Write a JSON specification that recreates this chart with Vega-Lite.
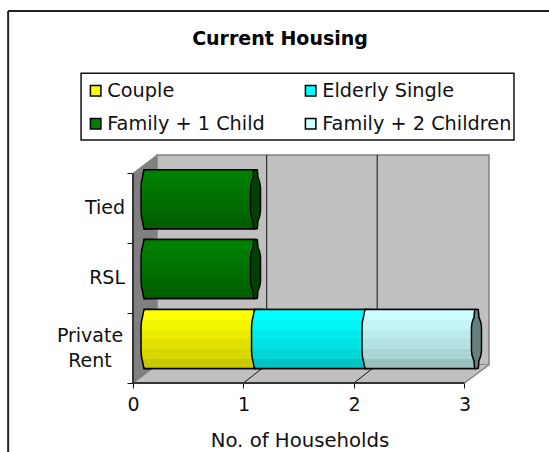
{
"$schema":"https://vega.github.io/schema/vega-lite/v6.json",
"width":356,"height":228,
"autosize":"none",
"padding":{"left":133,"top":155,"right":60,"bottom":69},
"background":"white",
"title":{"text":"Current Housing","anchor":"middle","frame":"group","dx":-31,"offset":-39,"font":"DejaVu Sans","fontSize":19,"fontWeight":"bold","color":"black"},
"config":{"view":{"stroke":null},"font":"DejaVu Sans"},
"datasets":{
"bars":[
{"category":"Private Rent","series":"Couple","value":1,"x":0,"x2":1,"y":0.5},
{"category":"Private Rent","series":"Elderly Single","value":1,"x":1,"x2":2,"y":0.5},
{"category":"Private Rent","series":"Family + 2 Children","value":1,"x":2,"x2":3,"y":0.5},
{"category":"RSL","series":"Family + 1 Child","value":1,"x":0,"x2":1,"y":1.5},
{"category":"Tied","series":"Family + 1 Child","value":1,"x":0,"x2":1,"y":2.5}
],
"labels":[
{"category":"Private Rent","x":0,"y":0.5},
{"category":"RSL","x":0,"y":1.5},
{"category":"Tied","x":0,"y":2.5}
]
},
"encoding":{
"x":{"field":"x","type":"quantitative","scale":{"domain":[0,3.222],"nice":false,"zero":false,"padding":0},
"axis":{"values":[0,1,2,3],"format":"d","title":"No. of Households","grid":false,"domain":false,"tickColor":"#111","tickSize":5,"tickWidth":1,"labelFont":"DejaVu Sans","labelFontSize":19,"labelColor":"#111","labelPadding":7,"labelFlush":false,"titleFont":"DejaVu Sans","titleFontSize":19.7,"titleFontWeight":"normal","titleColor":"#111","titleX":166.5,"titleY":57,"titleBaseline":"middle"}},
"y":{"field":"y","type":"quantitative","scale":{"domain":[0,3.261],"nice":false,"zero":false,"padding":0},
"axis":{"values":[0,1,2,3],"labels":false,"title":null,"grid":false,"domain":false,"tickColor":"#111","tickSize":6,"tickWidth":1}}
},
"layer":[
{"data":{"values":[{"x":-1.13,"x2":3.77,"y":5.32,"y2":5.32},{"x":-1.13,"x2":-1.13,"y":5.32,"y2":-1}]},
 "mark":{"type":"rule","color":"#222","strokeWidth":2},"encoding":{"x2":{"field":"x2"},"y2":{"field":"y2"}}},
{"data":{"values":[{"x":-0.47,"x2":3.448,"y":3.476,"y2":4.43}]},
 "mark":{"type":"rect","fill":"white","stroke":"#111","strokeWidth":1.5},"encoding":{"x2":{"field":"x2"},"y2":{"field":"y2"}}},
{"data":{"values":[{"x":0,"y":0,"y2":3},{"x":0.217,"y":0.261,"y2":3.261}]},
 "mark":{"type":"area","color":"#808080","stroke":"#808080","strokeWidth":1},"encoding":{"y2":{"field":"y2"}}},
{"data":{"values":[{"x":0.217,"x2":3.222,"y":0.261,"y2":3.261}]},
 "mark":{"type":"rect","fill":"#c0c0c0","stroke":"#808080","strokeWidth":1.5},"encoding":{"x2":{"field":"x2"},"y2":{"field":"y2"}}},
{"data":{"values":[{"x":0,"y":0,"y2":0},{"x":0.217,"y":0.261,"y2":0},{"x":3,"y":0.261,"y2":0},{"x":3.222,"y":0.261,"y2":0.261}]},
 "mark":{"type":"area","color":"#c0c0c0","interpolate":"linear"},"encoding":{"y2":{"field":"y2"}}},
{"data":{"values":[{"x":3,"x2":3.222,"y":0,"y2":0.261},{"x":0,"x2":0.217,"y":0,"y2":0.261}]},
 "mark":{"type":"rule","color":"#808080","strokeWidth":1.5},"encoding":{"x2":{"field":"x2"},"y2":{"field":"y2"}}},
{"data":{"values":[{"x":1.21,"x2":1.21,"y":0.261,"y2":3.261},{"x":2.21,"x2":2.21,"y":0.261,"y2":3.261},{"x":1,"x2":1.21,"y":0,"y2":0.261},{"x":2,"x2":2.21,"y":0,"y2":0.261}]},
 "mark":{"type":"rule","color":"#111","strokeWidth":1},"encoding":{"x2":{"field":"x2"},"y2":{"field":"y2"}}},
{"data":{"values":[{"x":0,"x2":3,"y":0,"y2":0},{"x":0,"x2":0,"y":0,"y2":3}]},
 "mark":{"type":"rule","color":"#333","strokeWidth":2},"encoding":{"x2":{"field":"x2"},"y2":{"field":"y2"}}},
{"data":{"name":"bars"},
 "mark":{"type":"bar","orient":"horizontal","size":59,"xOffset":11,"x2Offset":11,"yOffset":-9,"stroke":"black","strokeWidth":1.5},
 "encoding":{"x2":{"field":"x2"},
 "color":{"field":"series","type":"nominal","scale":{"domain":["Couple","Elderly Single","Family + 1 Child","Family + 2 Children"],"range":["#ffff00","#00ffff","#008000","#ccffff"]},
 "legend":{"title":null,"orient":"none","legendX":-47,"legendY":-74,"direction":"horizontal","columns":2,"gridAlign":"each","columnPadding":36,"rowPadding":13,"symbolType":"square","symbolSize":110,"symbolStrokeColor":"black","symbolStrokeWidth":1.5,"symbolOpacity":1,"labelFont":"DejaVu Sans","labelFontSize":19.3,"labelColor":"#111","labelOffset":2,"padding":0,"labelLimit":300}}}},
{"data":{"name":"bars"},"transform":[{"filter":"datum.series==='Family + 1 Child'"}],
 "mark":{"type":"bar","orient":"horizontal","size":59,"xOffset":11,"x2Offset":11,"yOffset":-9,"stroke":"black","strokeWidth":1.5,"fill":{"gradient":"linear","x1":0,"y1":0,"x2":0,"y2":1,"stops":[{"offset":0,"color":"#008000"},{"offset":0.17,"color":"#008000"},{"offset":0.17,"color":"#007a00"},{"offset":0.34,"color":"#007a00"},{"offset":0.34,"color":"#007300"},{"offset":0.5,"color":"#007300"},{"offset":0.5,"color":"#006d00"},{"offset":0.67,"color":"#006d00"},{"offset":0.67,"color":"#006600"},{"offset":0.84,"color":"#006600"},{"offset":0.84,"color":"#006000"},{"offset":1,"color":"#006000"}]}},
 "encoding":{"x2":{"field":"x2"}}},
{"data":{"name":"bars"},"transform":[{"filter":"datum.series==='Family + 1 Child'"}],
 "mark":{"type":"point","filled":true,"opacity":1,"shape":"M0.3,-1 L0.02,-1 Q-0.03,-0.95 -0.04,-0.8 Q-0.1,-0.6 -0.1,-0.4 L-0.1,0.4 Q-0.1,0.6 -0.04,0.8 Q-0.03,0.95 0.02,1 L0.3,1","size":3481,"xOffset":11,"yOffset":-9,"stroke":"black","strokeWidth":1.5,"fill":{"gradient":"linear","x1":0,"y1":0,"x2":0,"y2":1,"stops":[{"offset":0,"color":"#008000"},{"offset":0.17,"color":"#008000"},{"offset":0.17,"color":"#007a00"},{"offset":0.34,"color":"#007a00"},{"offset":0.34,"color":"#007300"},{"offset":0.5,"color":"#007300"},{"offset":0.5,"color":"#006d00"},{"offset":0.67,"color":"#006d00"},{"offset":0.67,"color":"#006600"},{"offset":0.84,"color":"#006600"},{"offset":0.84,"color":"#006000"},{"offset":1,"color":"#006000"}]}}},
{"data":{"name":"bars"},"transform":[{"filter":"datum.series==='Family + 1 Child'"}],
 "mark":{"type":"point","filled":true,"opacity":1,"shape":"M-0.06,-1 L0.06,-1 Q0.08,-0.85 0.08,-0.75 Q0.17,-0.55 0.17,-0.4 L0.17,0.4 Q0.17,0.55 0.08,0.75 Q0.08,0.85 0.06,1 L-0.06,1 Q-0.08,0.85 -0.08,0.75 Q-0.17,0.55 -0.17,0.4 L-0.17,-0.4 Q-0.17,-0.55 -0.08,-0.75 Q-0.08,-0.85 -0.06,-1 Z","size":3481,"xOffset":12,"yOffset":-9,"stroke":"black","strokeWidth":1.5,"fill":"#004000"},
 "encoding":{"x":{"field":"x2","type":"quantitative"}}},
{"data":{"name":"bars"},"transform":[{"filter":"datum.series==='Couple'"}],
 "mark":{"type":"bar","orient":"horizontal","size":59,"xOffset":11,"x2Offset":11,"yOffset":-9,"stroke":"black","strokeWidth":1.5,"fill":{"gradient":"linear","x1":0,"y1":0,"x2":0,"y2":1,"stops":[{"offset":0,"color":"#ffff00"},{"offset":0.17,"color":"#ffff00"},{"offset":0.17,"color":"#f5f500"},{"offset":0.34,"color":"#f5f500"},{"offset":0.34,"color":"#ebeb00"},{"offset":0.5,"color":"#ebeb00"},{"offset":0.5,"color":"#e1e100"},{"offset":0.67,"color":"#e1e100"},{"offset":0.67,"color":"#d7d700"},{"offset":0.84,"color":"#d7d700"},{"offset":0.84,"color":"#c8c800"},{"offset":1,"color":"#c8c800"}]}},
 "encoding":{"x2":{"field":"x2"}}},
{"data":{"name":"bars"},"transform":[{"filter":"datum.series==='Couple'"}],
 "mark":{"type":"point","filled":true,"opacity":1,"shape":"M0.3,-1 L0.02,-1 Q-0.03,-0.95 -0.04,-0.8 Q-0.1,-0.6 -0.1,-0.4 L-0.1,0.4 Q-0.1,0.6 -0.04,0.8 Q-0.03,0.95 0.02,1 L0.3,1","size":3481,"xOffset":11,"yOffset":-9,"stroke":"black","strokeWidth":1.5,"fill":{"gradient":"linear","x1":0,"y1":0,"x2":0,"y2":1,"stops":[{"offset":0,"color":"#ffff00"},{"offset":0.17,"color":"#ffff00"},{"offset":0.17,"color":"#f5f500"},{"offset":0.34,"color":"#f5f500"},{"offset":0.34,"color":"#ebeb00"},{"offset":0.5,"color":"#ebeb00"},{"offset":0.5,"color":"#e1e100"},{"offset":0.67,"color":"#e1e100"},{"offset":0.67,"color":"#d7d700"},{"offset":0.84,"color":"#d7d700"},{"offset":0.84,"color":"#c8c800"},{"offset":1,"color":"#c8c800"}]}}},
{"data":{"name":"bars"},"transform":[{"filter":"datum.series==='Elderly Single'"}],
 "mark":{"type":"bar","orient":"horizontal","size":59,"xOffset":11,"x2Offset":11,"yOffset":-9,"stroke":"black","strokeWidth":1.5,"fill":{"gradient":"linear","x1":0,"y1":0,"x2":0,"y2":1,"stops":[{"offset":0,"color":"#00ffff"},{"offset":0.17,"color":"#00ffff"},{"offset":0.17,"color":"#00f5f5"},{"offset":0.34,"color":"#00f5f5"},{"offset":0.34,"color":"#00ebeb"},{"offset":0.5,"color":"#00ebeb"},{"offset":0.5,"color":"#00e1e1"},{"offset":0.67,"color":"#00e1e1"},{"offset":0.67,"color":"#00d7d7"},{"offset":0.84,"color":"#00d7d7"},{"offset":0.84,"color":"#00c4c4"},{"offset":1,"color":"#00c4c4"}]}},
 "encoding":{"x2":{"field":"x2"}}},
{"data":{"name":"bars"},"transform":[{"filter":"datum.series==='Elderly Single'"}],
 "mark":{"type":"point","filled":true,"opacity":1,"shape":"M0.3,-1 L0.02,-1 Q-0.03,-0.95 -0.04,-0.8 Q-0.1,-0.6 -0.1,-0.4 L-0.1,0.4 Q-0.1,0.6 -0.04,0.8 Q-0.03,0.95 0.02,1 L0.3,1","size":3481,"xOffset":11,"yOffset":-9,"stroke":"black","strokeWidth":1.5,"fill":{"gradient":"linear","x1":0,"y1":0,"x2":0,"y2":1,"stops":[{"offset":0,"color":"#00ffff"},{"offset":0.17,"color":"#00ffff"},{"offset":0.17,"color":"#00f5f5"},{"offset":0.34,"color":"#00f5f5"},{"offset":0.34,"color":"#00ebeb"},{"offset":0.5,"color":"#00ebeb"},{"offset":0.5,"color":"#00e1e1"},{"offset":0.67,"color":"#00e1e1"},{"offset":0.67,"color":"#00d7d7"},{"offset":0.84,"color":"#00d7d7"},{"offset":0.84,"color":"#00c4c4"},{"offset":1,"color":"#00c4c4"}]}}},
{"data":{"name":"bars"},"transform":[{"filter":"datum.series==='Family + 2 Children'"}],
 "mark":{"type":"bar","orient":"horizontal","size":59,"xOffset":11,"x2Offset":11,"yOffset":-9,"stroke":"black","strokeWidth":1.5,"fill":{"gradient":"linear","x1":0,"y1":0,"x2":0,"y2":1,"stops":[{"offset":0,"color":"#ccffff"},{"offset":0.17,"color":"#ccffff"},{"offset":0.17,"color":"#c4f5f5"},{"offset":0.34,"color":"#c4f5f5"},{"offset":0.34,"color":"#bcebeb"},{"offset":0.5,"color":"#bcebeb"},{"offset":0.5,"color":"#b4e1e1"},{"offset":0.67,"color":"#b4e1e1"},{"offset":0.67,"color":"#aad5d5"},{"offset":0.84,"color":"#aad5d5"},{"offset":0.84,"color":"#9cc0c0"},{"offset":1,"color":"#9cc0c0"}]}},
 "encoding":{"x2":{"field":"x2"}}},
{"data":{"name":"bars"},"transform":[{"filter":"datum.series==='Family + 2 Children'"}],
 "mark":{"type":"point","filled":true,"opacity":1,"shape":"M0.3,-1 L0.02,-1 Q-0.03,-0.95 -0.04,-0.8 Q-0.1,-0.6 -0.1,-0.4 L-0.1,0.4 Q-0.1,0.6 -0.04,0.8 Q-0.03,0.95 0.02,1 L0.3,1","size":3481,"xOffset":11,"yOffset":-9,"stroke":"black","strokeWidth":1.5,"fill":{"gradient":"linear","x1":0,"y1":0,"x2":0,"y2":1,"stops":[{"offset":0,"color":"#ccffff"},{"offset":0.17,"color":"#ccffff"},{"offset":0.17,"color":"#c4f5f5"},{"offset":0.34,"color":"#c4f5f5"},{"offset":0.34,"color":"#bcebeb"},{"offset":0.5,"color":"#bcebeb"},{"offset":0.5,"color":"#b4e1e1"},{"offset":0.67,"color":"#b4e1e1"},{"offset":0.67,"color":"#aad5d5"},{"offset":0.84,"color":"#aad5d5"},{"offset":0.84,"color":"#9cc0c0"},{"offset":1,"color":"#9cc0c0"}]}}},
{"data":{"name":"bars"},"transform":[{"filter":"datum.series==='Family + 2 Children'"}],
 "mark":{"type":"point","filled":true,"opacity":1,"shape":"M-0.06,-1 L0.06,-1 Q0.08,-0.85 0.08,-0.75 Q0.17,-0.55 0.17,-0.4 L0.17,0.4 Q0.17,0.55 0.08,0.75 Q0.08,0.85 0.06,1 L-0.06,1 Q-0.08,0.85 -0.08,0.75 Q-0.17,0.55 -0.17,0.4 L-0.17,-0.4 Q-0.17,-0.55 -0.08,-0.75 Q-0.08,-0.85 -0.06,-1 Z","size":3481,"xOffset":12,"yOffset":-9,"stroke":"black","strokeWidth":1.5,"fill":"#668080"},
 "encoding":{"x":{"field":"x2","type":"quantitative"}}},
{"data":{"name":"labels"},"transform":[{"filter":"datum.category!=='Private Rent'"}],
 "mark":{"type":"text","align":"right","baseline":"middle","dx":-8,"font":"DejaVu Sans","fontSize":19,"color":"#111"},
 "encoding":{"text":{"field":"category"}}},
{"data":{"name":"labels"},"transform":[{"filter":"datum.category==='Private Rent'"}],
 "mark":{"type":"text","align":"center","baseline":"middle","dx":-43,"dy":-12,"lineBreak":" ","lineHeight":25,"font":"DejaVu Sans","fontSize":19,"color":"#111"},
 "encoding":{"text":{"field":"category"}}}
]
}
